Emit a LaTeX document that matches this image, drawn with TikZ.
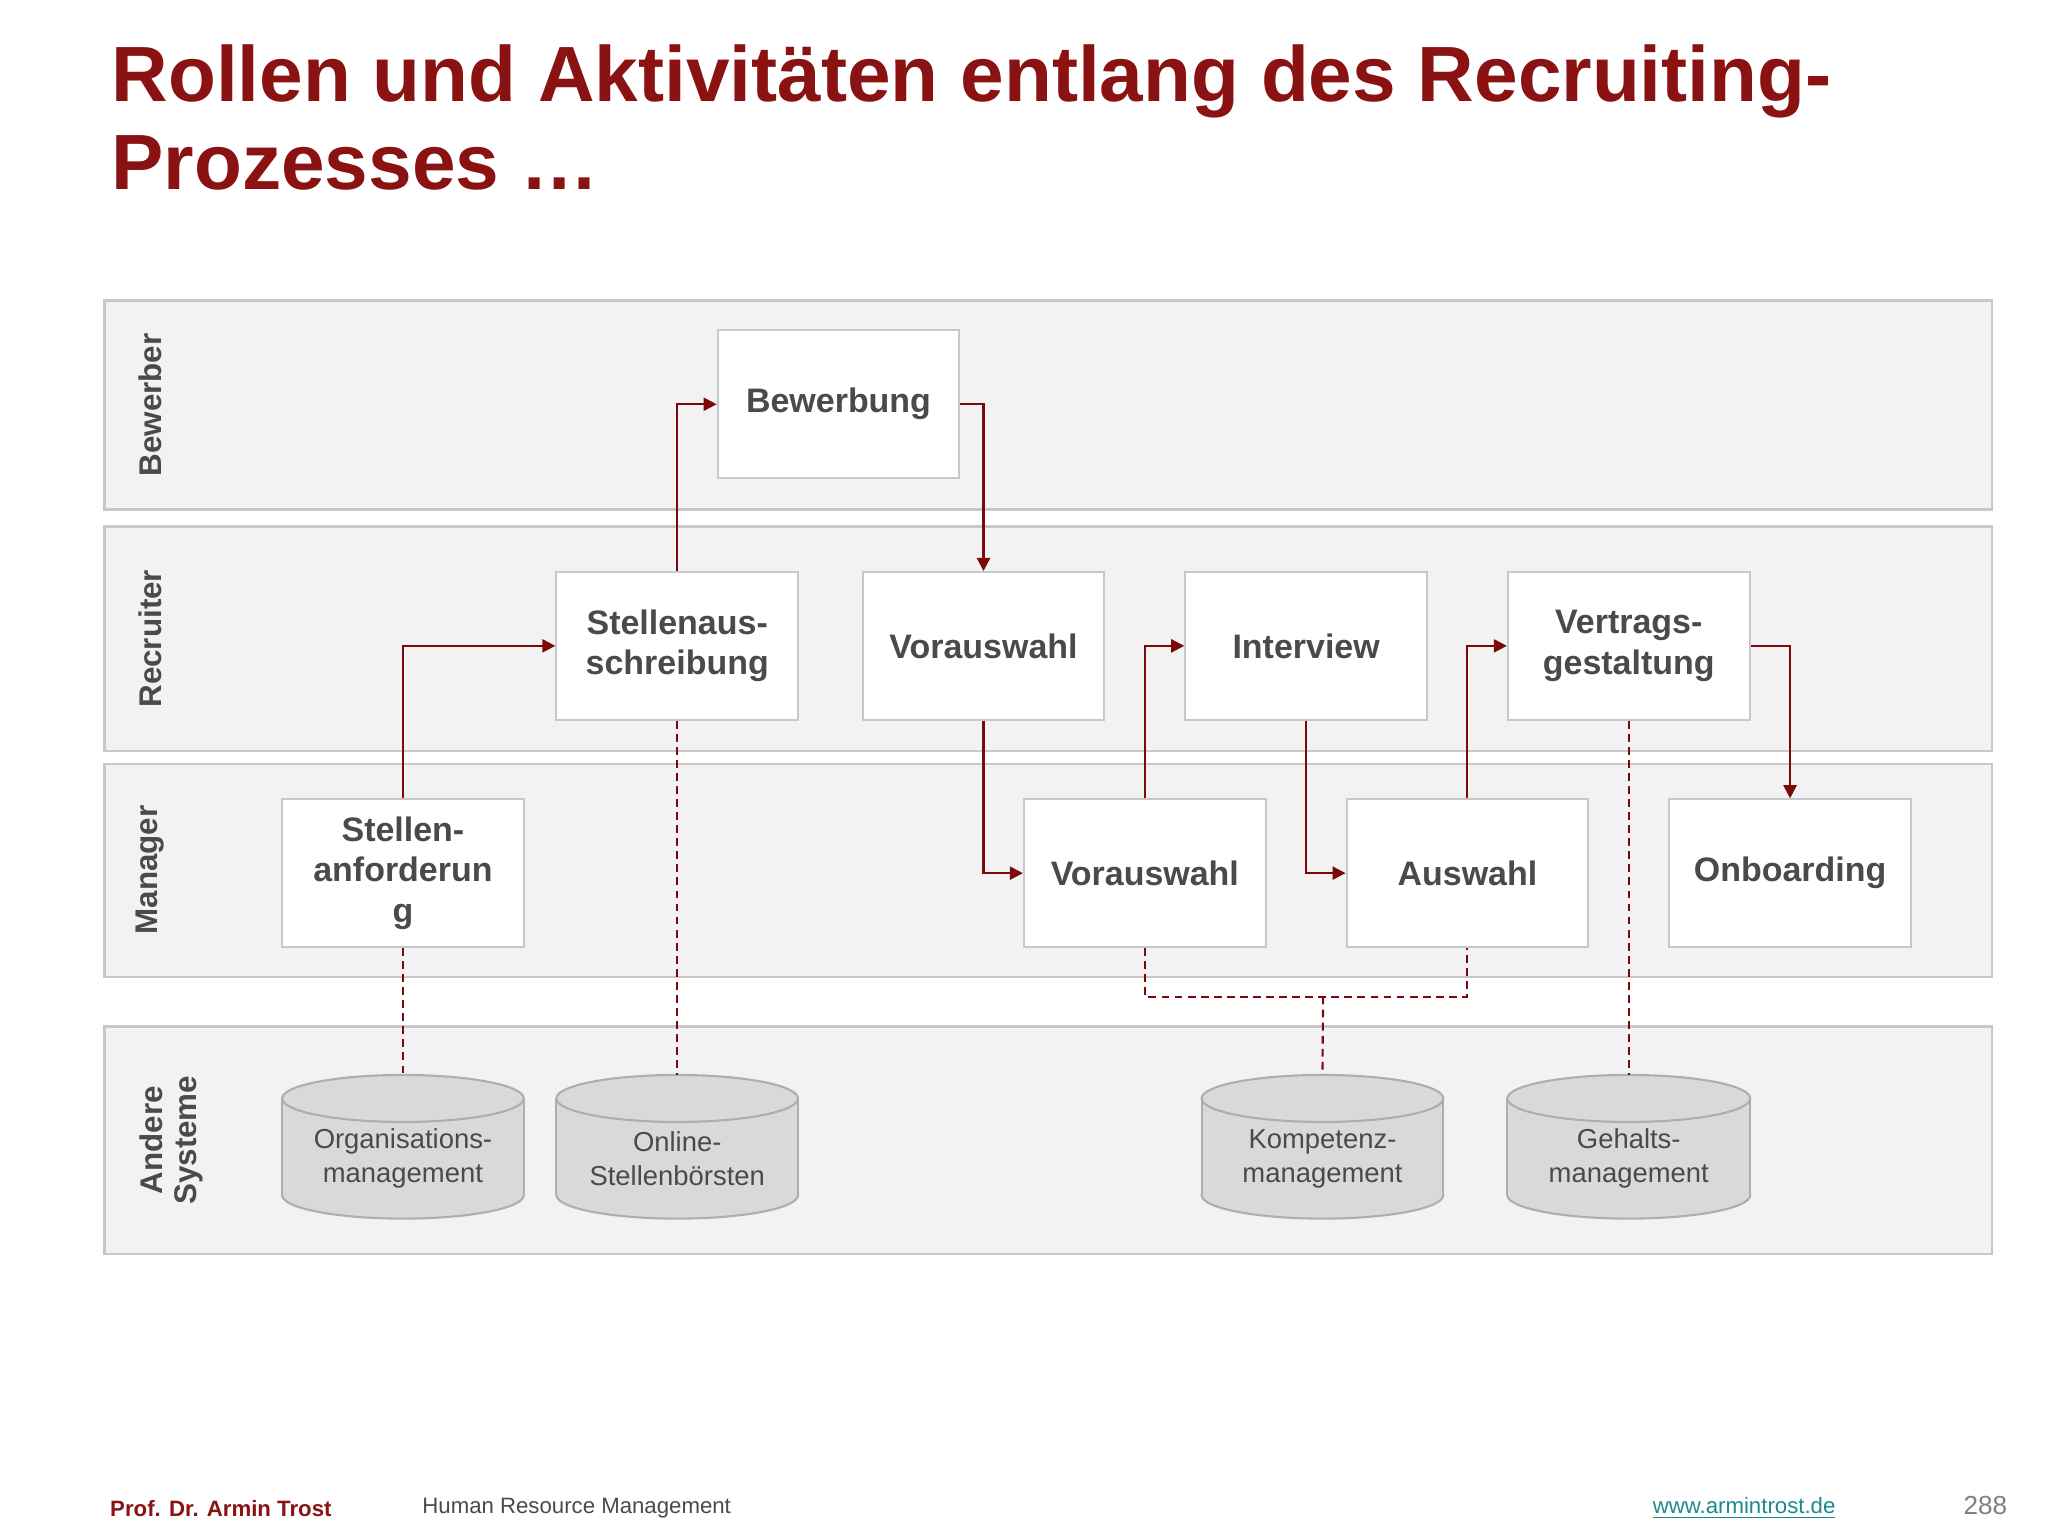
\documentclass[tikz,border=0pt]{standalone}
\usepackage{fontspec}
\setmainfont{Liberation Sans}
\usetikzlibrary{arrows.meta}
\definecolor{dred}{HTML}{8A1212}
\definecolor{ared}{HTML}{7A0A0A}
\definecolor{lanefill}{HTML}{F2F1F3}
\definecolor{laneline}{HTML}{C8C8C8}
\definecolor{txt}{HTML}{4A4A4A}
\definecolor{cylfill}{HTML}{D9D9D9}
\definecolor{cylline}{HTML}{AEAEAE}
\definecolor{teal}{HTML}{1A8A8A}
\tikzset{
 lane/.style={fill=lanefill,draw=laneline,line width=1pt},
 lanelabel/.style={rotate=90,font=\fontsize{12}{13}\selectfont\bfseries,text=txt,align=center},
 act/.style={draw=laneline,fill=white,line width=0.8pt,minimum width=92.5pt,minimum height=56.5pt,align=center,font=\fontsize{13}{15.5}\selectfont\bfseries,text=txt,inner sep=1pt},
 flow/.style={draw=ared,line width=0.8pt,-{Triangle[length=5pt,width=5pt]}},
 link/.style={draw=ared,line width=0.8pt,dashed,dash pattern=on 3pt off 2pt},
 cyl/.style={fill=cylfill,draw=cylline,line width=0.8pt},
 cyltext/.style={align=center,font=\fontsize{10.5}{13}\selectfont,text=txt}
}
\newcommand{\mycyl}[4]{% name, x1, x2, text
 \pgfmathsetmacro{\cx}{(#2+#3)/2}
 \filldraw[cyl] (\cx,915) ellipse[x radius={(#3-#2)/2}, y radius=18];
 \fill[cylfill] (#2,841) rectangle (#3,915);
 \draw[cylline,line width=0.8pt] (#2,841) -- (#2,915) (#3,841) -- (#3,915);
 \filldraw[cyl] (\cx,841) ellipse[x radius={(#3-#2)/2}, y radius=18];
 \coordinate (#1) at (\cx,823);
 \node[cyltext] (#1t) at (\cx,887) {#4};
}
\begin{document}
\begin{tikzpicture}[x=0.5pt,y=-0.5pt]
\useasboundingbox (0,0) rectangle (1568,1176);
\fill[white] (0,0) rectangle (1568,1176);
\node[anchor=west,text=dred,font=\fontsize{30}{31}\selectfont\bfseries,inner sep=0pt] (t1) at (85,62) {Rollen und Aktivitäten entlang des Recruiting-};
\node[anchor=west,text=dred,font=\fontsize{30}{31}\selectfont\bfseries,inner sep=0pt] (t2) at (85,125) {Prozesses …};
% lanes
\draw[lane] (80,230) rectangle (1525,390);
\draw[lane] (80,403) rectangle (1525,575);
\draw[lane] (80,585) rectangle (1525,748);
\draw[lane] (80,786) rectangle (1525,960);
\node[lanelabel] (l1) at (115,310) {Bewerber};
\node[lanelabel] (l2) at (115,489) {Recruiter};
\node[lanelabel] (l3) at (115,666) {Manager};
\node[lanelabel] (l4) at (131,873) {Andere\\Systeme};
% boxes
\node[act] (bew) at (642,309.5) {Bewerbung};
\node[act] (sta) at (518.5,494.5) {Stellenaus-\\schreibung};
\node[act] (vor) at (753,494.5) {Vorauswahl};
\node[act] (int) at (1000,494.5) {Interview};
\node[act] (ver) at (1247,494.5) {Vertrags-\\gestaltung};
\node[act] (san) at (308.5,668.5) {Stellen-\\anforderun\\g};
\node[act] (vom) at (876.5,668.5) {Vorauswahl};
\node[act] (aus) at (1123.5,668.5) {Auswahl};
\node[act] (onb) at (1370.5,668.5) {Onboarding};
% cylinders
\mycyl{org}{216}{401}{Organisations-\\management}
\mycyl{onl}{426}{611}{Online-\\Stellenbörsten}
\mycyl{kom}{920}{1105}{Kompetenz-\\management}
\mycyl{geh}{1154}{1340}{Gehalts-\\management}
% flows
\draw[flow] (san.north) |- (sta.west);
\draw[flow] (sta.north) |- (bew.west);
\draw[flow] (bew.east) -| (vor.north);
\draw[flow] (vor.south) |- (vom.west);
\draw[flow] (vom.north) |- (int.west);
\draw[flow] (int.south) |- (aus.west);
\draw[flow] (aus.north) |- (ver.west);
\draw[flow] (ver.east) -| (onb.north);
% dashed links
\draw[link] (san.south) -- (org);
\draw[link] (sta.south) -- (onl);
\draw[link] (vom.south) |- (1013,763) -| (aus.south);
\draw[link] (1013,763) -- (kom);
\draw[link] (ver.south) -- (geh);
% footer
\node[anchor=west,text=dred,font=\fontsize{8.5}{10}\selectfont\bfseries,inner sep=0pt] (f1) at (84,1155) {Prof. Dr. Armin Trost};
\node[anchor=west,text=txt,font=\fontsize{8.5}{10}\selectfont,inner sep=0pt] (f2) at (323,1155) {Human Resource Management};
\node[anchor=west,text=teal,font=\fontsize{8.5}{10}\selectfont,inner sep=0pt] (f3) at (1265,1155) {\underline{www.armintrost.de}};
\node[anchor=west,text=gray,font=\fontsize{10}{12}\selectfont,inner sep=0pt] (f4) at (1503,1153) {288};
\end{tikzpicture}
\end{document}
